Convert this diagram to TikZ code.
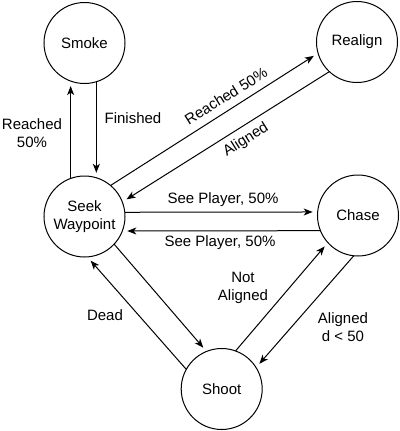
\documentclass[tikz,border=0pt]{standalone}
\usepackage{fontspec}
\setmainfont{Liberation Sans}
\usetikzlibrary{arrows.meta}
\begin{document}
\begin{tikzpicture}[x=1bp,y=-1bp,
  state/.style={circle,draw,line width=1bp,minimum size=81bp,inner sep=0pt,outer sep=0pt,align=center,font=\fontsize{15bp}{18bp}\selectfont},
  lbl/.style={align=center,inner sep=0pt,font=\fontsize{15bp}{18bp}\selectfont},
  tr/.style={line width=1bp,-{Stealth[length=9bp,width=7bp,inset=2.5bp]},shorten >=5bp}]
\useasboundingbox (0,0) rectangle (400,431);
\node[state] (smoke) at (84.5,43) {Smoke};
\node[state] (realign) at (357,42) {Realign};
\node[state] (seek) at (84.5,216.5) {Seek\\Waypoint};
\node[state] (chase) at (358,215.5) {Chase};
\node[state] (shoot) at (221.7,389) {Shoot};

\draw[tr] (seek.110) -- (smoke.250);
\draw[tr] (smoke.287) -- (seek.73);
\draw[tr] (seek.50.6) -- (realign.196.4);
\draw[tr] (realign.227.9) -- (seek.21.6);
\draw[tr] (seek.6.3) -- (chase.175);
\draw[tr] (chase.202.5) -- (seek.339.3);
\draw[tr] (seek.317) -- (shoot.112.9);
\draw[tr] (shoot.151.8) -- (seek.274.5);
\draw[tr] (shoot.70) -- (chase.222.3);
\draw[tr] (chase.264.4) -- (shoot.32.4);

\node[lbl] (l1) at (32,133) {Reached\\50\%};
\node[lbl] (l2) at (133,118) {Finished};
\node[lbl,rotate=32] (l3) at (226,96) {Reached 50\%};
\node[lbl,rotate=32] (l4) at (246,140) {Aligned};
\node[lbl] (l5) at (223,200) {See Player, 50\%};
\node[lbl] (l6) at (220,243) {See Player, 50\%};
\node[lbl] (l7) at (105,315) {Dead};
\node[lbl] (l8) at (243,288) {Not\\Aligned};
\node[lbl] (l9) at (343,327) {Aligned\\d < 50};
\end{tikzpicture}
\end{document}
